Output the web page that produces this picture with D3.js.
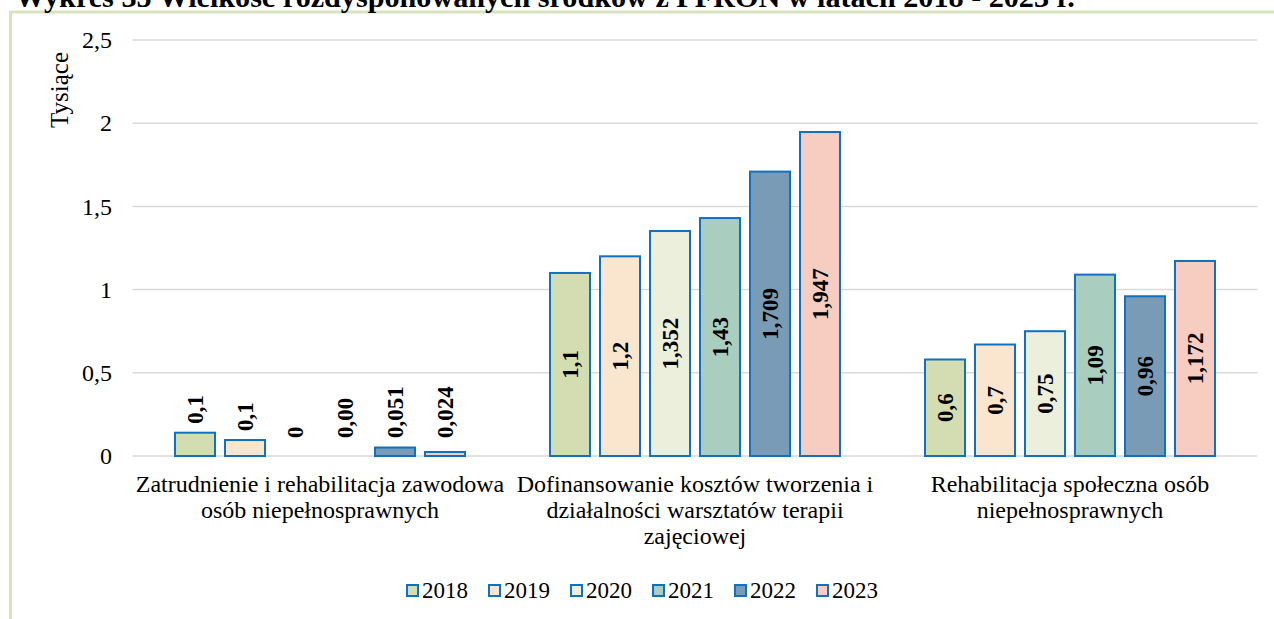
<!DOCTYPE html>
<html lang="pl">
<head>
<meta charset="utf-8">
<script src="https://cdn.jsdelivr.net/npm/d3@7"></script>
<style>
  html, body { margin: 0; padding: 0; background: #fff; }
  svg { display: block; }
  svg text { font-family: "Liberation Serif", "Times New Roman", Tinos, "DejaVu Serif", serif; }
</style>
</head>
<body>
<svg id="chart" width="1274" height="619"></svg>
<script>
// Categories (programme areas) and years
const categories = [
  ["Zatrudnienie i rehabilitacja zawodowa", "osób niepełnosprawnych"],
  ["Dofinansowanie kosztów tworzenia i", "działalności warsztatów terapii", "zajęciowej"],
  ["Rehabilitacja społeczna osób", "niepełnosprawnych"]
];
const years = ["2018", "2019", "2020", "2021", "2022", "2023"];

// Values in thousands, one array per year (one value per category)
const v2018 = [0.14, 1.1, 0.58];
const v2019 = [0.096, 1.2, 0.67];
const v2020 = [0, 1.352, 0.75];
const v2021 = [0, 1.43, 1.09];
const v2022 = [0.051, 1.709, 0.96];
const v2023 = [0.024, 1.947, 1.172];

// Number of decimals shown in each data label
const d2018 = [1, 1, 1];
const d2019 = [1, 1, 1];
const d2020 = [0, 3, 2];
const d2021 = [2, 2, 2];
const d2022 = [3, 3, 2];
const d2023 = [3, 3, 3];

const yTicks = [0, 0.5, 1, 1.5, 2, 2.5];
const yTickLabels = ["0", "0,5", "1", "1,5", "2", "2,5"];

const colors = ["#d3ddb1", "#fae5cf", "#ebefdc", "#a9cdbf", "#7a9bb5", "#f8cdc1"];
const strokeColor = "#1270c0";
const FONT = "'Liberation Serif', 'Times New Roman', Tinos, 'DejaVu Serif', serif";

const seriesValues = [v2018, v2019, v2020, v2021, v2022, v2023];
const seriesDecimals = [d2018, d2019, d2020, d2021, d2022, d2023];

const svg = d3.select("#chart").attr("font-family", FONT);

// Outer frame
svg.append("rect")
  .attr("x", 10.5).attr("y", 12)
  .attr("width", 1300).attr("height", 700)
  .attr("fill", "none")
  .attr("stroke", "#d6e3bc")
  .attr("stroke-width", 3);

// Title (runs off the top edge of the page)
const title = svg.append("text")
  .attr("x", 15).attr("y", 6.5)
  .attr("font-family", FONT)
  .attr("font-weight", "bold")
  .attr("font-size", 28)
  .attr("fill", "#000")
  .text("Wykres 35 Wielkość rozdysponowanych środków z PFRON w latach 2018 - 2023 r.");
const tl = title.node().getComputedTextLength();
title.attr("font-size", 28 * 1060 / tl);

// Scales
const x0 = d3.scaleBand().domain(d3.range(categories.length)).range([132.5, 1257.5]).padding(0);
const x1 = d3.scaleBand().domain(years).range([0, 290]).paddingInner(0.2).paddingOuter(0);
const y = d3.scaleLinear().domain([0, 2.5]).range([456, 40]);

// Gridlines
svg.append("g")
  .selectAll("line")
  .data(yTicks)
  .join("line")
  .attr("x1", 132.5).attr("x2", 1257.5)
  .attr("y1", d => y(d)).attr("y2", d => y(d))
  .attr("stroke", "#d9d9d9")
  .attr("stroke-width", 1.5);

// Y axis labels
const yAxis = d3.axisLeft(y)
  .tickValues(yTicks)
  .tickFormat((d, i) => yTickLabels[i])
  .tickSize(0)
  .tickPadding(0);
const yg = svg.append("g").attr("transform", "translate(112,0)").call(yAxis);
yg.attr("font-family", FONT).attr("font-size", 24);
yg.select(".domain").remove();
yg.selectAll("text")
  .attr("font-family", FONT)
  .attr("font-size", 24)
  .attr("fill", "#000");

// Y axis title
svg.append("text")
  .attr("transform", "translate(68,90) rotate(-90)")
  .attr("text-anchor", "middle")
  .attr("font-family", FONT)
  .attr("font-size", 25)
  .attr("fill", "#000")
  .text("Tysiące");

// Bars
const groupOffset = (x0.bandwidth() - 290) / 2;
const barData = [];
categories.forEach((c, ci) => {
  years.forEach((yr, si) => {
    barData.push({ ci, si, year: yr, value: seriesValues[si][ci], dec: seriesDecimals[si][ci] });
  });
});

const bx = d => x0(d.ci) + groupOffset + x1(d.year);

svg.append("g")
  .selectAll("rect")
  .data(barData.filter(d => d.value > 0))
  .join("rect")
  .attr("x", d => bx(d))
  .attr("y", d => y(d.value))
  .attr("width", x1.bandwidth())
  .attr("height", d => y(0) - y(d.value))
  .attr("fill", d => colors[d.si])
  .attr("stroke", strokeColor)
  .attr("stroke-width", 2);

// Data labels (comma decimal separator)
const fmt = d => d.value.toFixed(d.dec).replace(".", ",");
const labels = svg.append("g")
  .selectAll("text")
  .data(barData)
  .join("text")
  .attr("font-family", FONT)
  .attr("font-weight", "bold")
  .attr("font-size", 23)
  .attr("fill", "#000")
  .text(d => fmt(d));

labels.each(function(d) {
  const cx = bx(d) + x1.bandwidth() / 2;
  const sel = d3.select(this);
  if (d.ci === 0) {
    // small values: label above the bar, reading upward
    const base = Math.min(y(d.value) - 9, 438);
    sel.attr("text-anchor", "start")
      .attr("dominant-baseline", "central")
      .attr("transform", `translate(${cx},${base}) rotate(-90)`);
  } else {
    const cy = (y(d.value) + y(0)) / 2;
    sel.attr("text-anchor", "middle")
      .attr("dominant-baseline", "central")
      .attr("transform", `translate(${cx},${cy}) rotate(-90)`);
  }
});

// Category labels
const catG = svg.append("g");
categories.forEach((lines, ci) => {
  const t = catG.append("text")
    .attr("text-anchor", "middle")
    .attr("font-family", FONT)
    .attr("font-size", 24)
    .attr("fill", "#000");
  lines.forEach((ln, li) => {
    t.append("tspan")
      .attr("x", x0(ci) + x0.bandwidth() / 2)
      .attr("y", 492 + li * 26)
      .text(ln);
  });
});

// Legend
const legendX = [407, 489, 571, 653, 735, 817];
const lg = svg.append("g");
years.forEach((yr, i) => {
  lg.append("rect")
    .attr("x", legendX[i]).attr("y", 585)
    .attr("width", 11).attr("height", 11)
    .attr("fill", colors[i])
    .attr("stroke", strokeColor)
    .attr("stroke-width", 2);
  lg.append("text")
    .attr("x", legendX[i] + 15).attr("y", 598)
    .attr("font-family", FONT)
    .attr("font-size", 23)
    .attr("fill", "#000")
    .text(yr);
});
</script>
</body>
</html>
